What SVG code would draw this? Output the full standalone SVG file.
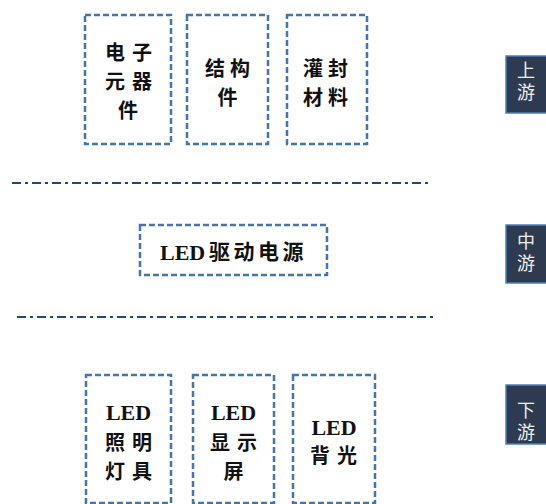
<svg xmlns="http://www.w3.org/2000/svg" width="546" height="504" viewBox="0 0 546 504">
<style>
.box{fill:#ffffff;stroke:#4676a8;stroke-width:2.5;stroke-dasharray:6 3}
.sep{stroke:#244876;stroke-width:2.2;stroke-dasharray:9 4 3 4;fill:none}
.cn{font-family:"Noto Sans CJK SC",sans-serif;font-weight:700;font-size:20px;fill:#111111}
.en{font-family:"Liberation Serif",serif;font-weight:700;font-size:22px;fill:#111111}
.side{fill:#2d3a4f;stroke:#4f7fbb;stroke-width:1.5}
.st{font-family:"Noto Sans CJK SC",sans-serif;font-size:18px;fill:#eeeeee;writing-mode:vertical-rl;letter-spacing:4px}
</style>
<rect width="546" height="504" fill="#ffffff"/>
<g id="connectors">
<line class="sep" x1="12" y1="183" x2="428" y2="183"/>
<line class="sep" x1="17" y1="317" x2="433" y2="317"/>
</g>
<g id="node-electronic">
<rect class="box" x="85" y="15" width="86" height="129"/>
<text class="cn"><tspan x="105 132" y="60">电子</tspan><tspan x="105 132" y="89">元器</tspan><tspan x="118" y="118">件</tspan></text>
</g>
<g id="node-structure">
<rect class="box" x="187" y="15" width="81" height="129"/>
<text class="cn"><tspan x="205 230" y="76">结构</tspan><tspan x="217.5" y="105">件</tspan></text>
</g>
<g id="node-potting">
<rect class="box" x="287" y="15" width="80" height="129"/>
<text class="cn"><tspan x="303 328" y="76">灌封</tspan><tspan x="303 328" y="105">材料</tspan></text>
</g>
<g id="node-driver">
<rect class="box" x="140" y="225" width="187" height="50"/>
<text class="en" x="160" y="260">LED<tspan class="cn" x="209 233.5 258 282.5" y="259" style="font-size:21px">驱动电源</tspan></text>
</g>
<g id="node-lighting">
<rect class="box" x="86" y="375" width="85" height="128"/>
<text class="en"><tspan x="128.5" y="420" text-anchor="middle">LED</tspan><tspan class="cn" x="105 132" y="450">照明</tspan><tspan class="cn" x="105 132" y="479">灯具</tspan></text>
</g>
<g id="node-display">
<rect class="box" x="193" y="375" width="81" height="128"/>
<text class="en"><tspan x="233.5" y="420" text-anchor="middle">LED</tspan><tspan class="cn" x="210 237" y="450">显示</tspan><tspan class="cn" x="223.5" y="479">屏</tspan></text>
</g>
<g id="node-backlight">
<rect class="box" x="293" y="375" width="82" height="128"/>
<text class="en"><tspan x="334" y="435" text-anchor="middle">LED</tspan><tspan class="cn" x="310 337" y="463">背光</tspan></text>
</g>
<g id="label-upstream">
<rect class="side" x="506" y="56" width="45" height="57"/>
<text class="st" x="526" y="61">上游</text>
</g>
<g id="label-midstream">
<rect class="side" x="506" y="225" width="45" height="58"/>
<text class="st" x="526" y="232">中游</text>
</g>
<g id="label-downstream">
<rect class="side" x="506" y="385" width="45" height="59"/>
<text class="st" x="526" y="401">下游</text>
</g>
</svg>
